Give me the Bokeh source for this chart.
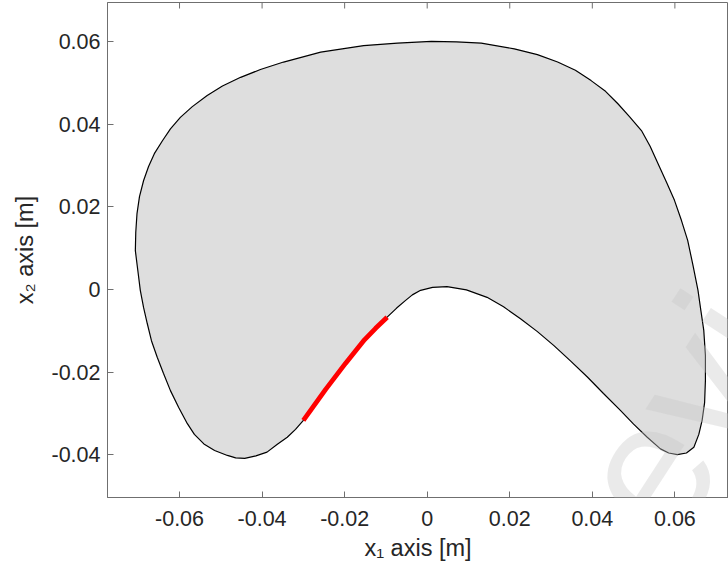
import math
from bokeh.plotting import figure
from bokeh.models import Range1d, LinearAxis, FixedTicker, Label, ColumnDataSource
from bokeh.embed import file_html
from bokeh.resources import INLINE

# ---------------- data ----------------
# closed boundary of the reachable workspace (x1, x2) in metres
x1_boundary = [-0.0707, -0.0706, -0.0703, -0.0697, -0.0687, -0.0675, -0.0661, -0.0641, -0.0622,
               -0.0598, -0.0569, -0.0533, -0.0496, -0.0452, -0.0404, -0.0348, -0.0258, -0.0154,
               -0.0072, 0.0010, 0.0071, 0.0131, 0.0211, 0.0267, 0.0316, 0.0359, 0.0397,
               0.0432, 0.0462, 0.0490, 0.0519, 0.0540, 0.0559, 0.0580, 0.0599, 0.0616,
               0.0631, 0.0644, 0.0656, 0.0663, 0.0670, 0.0674, 0.0674, 0.0672, 0.0666,
               0.0658, 0.0646, 0.0628, 0.0606, 0.0585, 0.0565, 0.0533, 0.0500, 0.0468,
               0.0427, 0.0388, 0.0347, 0.0307, 0.0267, 0.0226, 0.0185, 0.0145, 0.0095,
               0.0048, 0.0013, -0.0016, -0.0036, -0.0053, -0.0074, -0.0097, -0.0125, -0.0152,
               -0.0198, -0.0246, -0.0300, -0.0319, -0.0339, -0.0363, -0.0388, -0.0415, -0.0442,
               -0.0464, -0.0484, -0.0515, -0.0541, -0.0564, -0.0581, -0.0602, -0.0622, -0.0639,
               -0.0654, -0.0668, -0.0678, -0.0687, -0.0695, -0.0701, -0.0707]
x2_boundary = [0.0094, 0.0138, 0.0184, 0.0225, 0.0264, 0.0298, 0.0329, 0.0361, 0.0389,
               0.0417, 0.0443, 0.0470, 0.0493, 0.0514, 0.0533, 0.0551, 0.0575, 0.0591,
               0.0597, 0.0601, 0.0600, 0.0597, 0.0583, 0.0569, 0.0551, 0.0531, 0.0506,
               0.0480, 0.0450, 0.0419, 0.0385, 0.0347, 0.0305, 0.0259, 0.0216, 0.0167,
               0.0119, 0.0058, -0.0002, -0.0051, -0.0099, -0.0160, -0.0220, -0.0274, -0.0317,
               -0.0351, -0.0382, -0.0396, -0.0400, -0.0396, -0.0386, -0.0358, -0.0326, -0.0293,
               -0.0252, -0.0212, -0.0173, -0.0136, -0.0102, -0.0071, -0.0042, -0.0019, -0.0001,
               0.0007, 0.0005, -0.0002, -0.0013, -0.0027, -0.0045, -0.0067, -0.0094, -0.0122,
               -0.0179, -0.0242, -0.0317, -0.0339, -0.0358, -0.0375, -0.0394, -0.0403, -0.0409,
               -0.0408, -0.0402, -0.0390, -0.0374, -0.0351, -0.0325, -0.0286, -0.0245, -0.0203,
               -0.0164, -0.0124, -0.0083, -0.0044, -0.0002, 0.0046, 0.0094]

# highlighted (red) part of the inner boundary
x1_path = [-0.0097, -0.0125, -0.0152, -0.0198, -0.0246, -0.0300]
x2_path = [-0.0067, -0.0094, -0.0122, -0.0179, -0.0242, -0.0317]

x_ticks = [-0.06, -0.04, -0.02, 0.0, 0.02, 0.04, 0.06]
x_tick_labels = ["-0.06", "-0.04", "-0.02", "0", "0.02", "0.04", "0.06"]
y_ticks = [-0.04, -0.02, 0.0, 0.02, 0.04, 0.06]
y_tick_labels = ["-0.04", "-0.02", "0", "0.02", "0.04", "0.06"]

x_label = "x\u2081 axis [m]"
y_label = "x\u2082 axis [m]"

# ---------------- layout ----------------
W, H = 728, 573
SCALE = 4128.0                 # px per metre (equal axes)
X0_PX, Y0_PX = 426.7, 289.0    # pixel of the data origin
FRAME_L, FRAME_R, FRAME_T, FRAME_B = 107, 728, 2, 497
TICK_LEN = 6


def px2data(px, py):
    return (px - X0_PX) / SCALE, (Y0_PX - py) / SCALE


x_start, _ = px2data(FRAME_L, 0)
x_end, _ = px2data(FRAME_R, 0)
_, y_end = px2data(0, FRAME_T)
_, y_start = px2data(0, FRAME_B)

FONT = "Liberation Sans"
TXT = "#262626"
AX = "#6f6f6f"

p = figure(width=W, height=H, output_backend="svg", toolbar_location=None,
           x_range=Range1d(x_start, x_end), y_range=Range1d(y_start, y_end),
           min_border_left=FRAME_L, min_border_right=W - FRAME_R, min_border_top=FRAME_T,
           min_border_bottom=H - FRAME_B, x_axis_type=None, y_axis_type=None)
p.background_fill_color = "white"
p.border_fill_color = "white"
p.outline_line_color = AX
p.outline_line_width = 1
p.xgrid.visible = False
p.ygrid.visible = False


def style_axis(ax, ticks, labels, standoff, label_standoff):
    ax.ticker = FixedTicker(ticks=ticks)
    ax.major_label_overrides = {t: l for t, l in zip(ticks, labels)}
    ax.minor_tick_line_color = None
    ax.major_tick_in = TICK_LEN
    ax.major_tick_out = 0
    ax.axis_line_color = AX
    ax.major_tick_line_color = AX
    ax.major_label_text_font = FONT
    ax.major_label_text_color = TXT
    ax.major_label_text_font_size = "21.5px"
    ax.major_label_standoff = standoff
    ax.axis_label_text_font = FONT
    ax.axis_label_text_font_size = "23.5px"
    ax.axis_label_text_font_style = "normal"
    ax.axis_label_text_color = TXT
    ax.axis_label_standoff = label_standoff


xb = LinearAxis(axis_label=x_label)
style_axis(xb, x_ticks, x_tick_labels, 13, 6)
p.add_layout(xb, "below")
yl = LinearAxis(axis_label=y_label)
style_axis(yl, y_ticks, y_tick_labels, 7, 10)
p.add_layout(yl, "left")

# small inward tick marks on the top edge of the box
top_y0 = [y_end] * len(x_ticks)
top_y1 = [y_end - TICK_LEN / SCALE] * len(x_ticks)
p.segment(x0=x_ticks, y0=top_y0, x1=x_ticks, y1=top_y1, line_color=AX, line_width=1)

src = ColumnDataSource(dict(x=x1_boundary, y=x2_boundary))
p.patch("x", "y", source=src, fill_color="#dedede", line_color=None)
p.line("x", "y", source=src, line_color="black", line_width=1.2)
p.line(x1_path, x2_path, line_color="#ff0000", line_width=4.8)

# faint watermark
wx, wy = px2data(516, 669)
p.add_layout(Label(x=wx, y=wy, text="Preview", angle=math.radians(57), text_font=FONT,
                   text_font_size="185px", text_color="#c8c8c8", text_alpha=0.38,
                   text_align="left", text_baseline="alphabetic"))

open("out.html", "w").write(file_html(p, INLINE))
